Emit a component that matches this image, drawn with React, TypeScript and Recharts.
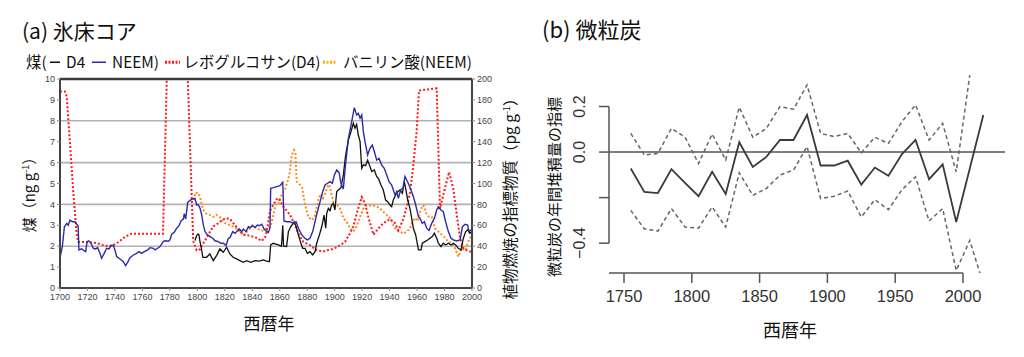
import React from 'react';
import { LineChart, Line, XAxis, YAxis, CartesianGrid, ReferenceLine } from 'recharts';

// ---------- (a) ice core data ----------
const NEEM_SOOT: [number, number][] = [
  [1700,1.45],[1701.7,1.98],[1703.2,2.93],[1704.9,3.09],[1706,3.0],[1707.3,3.25],[1709,3.17],[1710.9,3.17],[1712,3.06],[1713.2,2.98],
  [1713.8,1.82],[1715.8,1.87],[1717.7,1.77],[1718.7,1.74],[1719.7,2.22],[1721,2.26],[1722.6,2.14],[1724.3,1.9],[1726,1.87],[1727.4,1.93],
  [1729.1,1.66],[1730.3,1.42],[1732.2,1.66],[1734,1.9],[1735.7,1.87],[1737.1,2.03],[1738.8,2.03],[1740,1.82],[1741.3,1.5],[1743.7,1.39],
  [1746.1,1.26],[1747.8,1.07],[1749.2,1.23],[1751,1.45],[1753.4,1.58],[1755.8,1.66],[1757.5,1.74],[1759.4,1.66],[1761.4,1.74],[1763.8,1.82],
  [1765.5,1.93],[1768,1.9],[1769.2,1.82],[1771.1,1.9],[1772.8,1.98],[1775.2,2.22],[1776.5,2.26],[1779,2.24],[1780,2.3],[1781.3,2.57],
  [1783.2,2.67],[1785,2.86],[1786.7,2.98],[1788.1,3.21],[1789.8,3.3],[1790.5,3.56],[1791.5,3.3],[1793,4.1],[1794.7,4.19],[1796.6,4.26],
  [1798.3,4.29],[1799.5,3.97],[1800.5,4.0],[1802,3.81],[1803.2,3.49],[1804.4,3.01],[1805.6,2.7],[1807.3,2.54],[1809.3,2.46],[1811.2,2.38],
  [1812.9,2.26],[1815.3,2.22],[1817,2.14],[1819,2.14],[1820.9,2.03],[1822.6,2.38],[1823.8,2.41],[1825.8,2.7],[1827.5,2.62],[1828.7,2.7],
  [1830.6,2.82],[1832.3,2.7],[1833.5,2.82],[1835.4,2.7],[1837.2,2.93],[1838.4,2.89],[1840.3,2.98],[1842,2.89],[1843.7,3.01],[1845.2,2.98],
  [1846.9,3.05],[1848.6,2.82],[1850,2.73],[1851.7,2.66],[1852.9,2.86],[1853.4,4.77],[1855.4,4.8],[1857.8,4.85],[1860.2,4.9],[1862.2,5.06],
  [1863.1,3.21],[1865,3.17],[1867.5,3.17],[1869.9,3.09],[1871.9,3.17],[1873.6,2.86],[1876,2.54],[1878.4,2.38],[1880.1,2.3],[1882,2.38],
  [1884,2.7],[1885.7,3.17],[1887.4,3.65],[1889.4,4.13],[1891.3,4.61],[1893,4.93],[1894.9,5.01],[1896.6,5.09],[1898.3,5.01],[1899.8,5.41],
  [1901.5,5.65],[1903.2,5.53],[1904.6,5.01],[1906.3,4.74],[1908,5.96],[1910,7.16],[1912.4,7.96],[1914.3,8.63],[1916,8.28],[1917.2,8.36],
  [1918.5,8.12],[1919.7,8.28],[1920.9,7.48],[1922.1,7.0],[1924,6.36],[1925.7,6.68],[1927.4,6.84],[1928.9,6.52],[1930.6,6.12],[1932.3,6.2],
  [1934.2,5.89],[1936.1,5.73],[1937.9,5.41],[1939.6,5.09],[1941.5,4.93],[1942.7,4.69],[1944,4.45],[1945.2,4.61],[1946.4,4.29],[1948,4.69],
  [1949.7,4.77],[1951.2,5.33],[1952.4,5.17],[1953.6,5.01],[1955.6,4.69],[1957.3,4.37],[1959,3.97],[1961,3.41],[1962.2,3.33],[1963.8,3.09],
  [1965.3,3.17],[1967,2.86],[1968.7,2.75],[1970.6,3.09],[1972.6,3.33],[1974.3,3.73],[1975.5,3.89],[1977.4,3.73],[1979.1,3.65],[1980.8,3.17],
  [1982.8,2.7],[1984.7,2.38],[1986.4,2.3],[1988.8,2.25],[1991.3,2.3],[1993,2.93],[1994.9,3.05],[1996.8,3.01],[1997.8,2.7],[1999.3,2.78],
];

const D4_SOOT: [number, number][] = [
  [1798.3,2.27],[1799.5,2.51],[1800.6,2.59],[1801.2,2.55],[1801.8,2.27],[1803,1.87],[1804,1.47],[1806.7,1.47],[1809.1,1.63],[1811.6,1.31],
  [1814,1.55],[1816.4,1.87],[1818.9,1.71],[1821.3,1.95],[1823.7,1.63],[1826.1,1.47],[1828.6,1.39],[1831,1.31],[1833.4,1.23],[1835.9,1.31],
  [1838.9,1.23],[1842,1.31],[1845,1.29],[1848,1.34],[1850.5,1.29],[1852.5,1.26],[1853.4,2.06],[1855.4,2.14],[1857.2,2.1],[1859,2.06],
  [1861.3,2.0],[1862.2,3.0],[1862.8,2.0],[1865,1.98],[1866.3,2.7],[1868,2.93],[1870.5,3.17],[1872,2.93],[1873.6,2.54],[1875,2.22],
  [1876.7,1.9],[1878.4,1.9],[1880.1,1.66],[1882,1.74],[1884,1.58],[1885.7,1.74],[1886.9,2.14],[1888.9,2.54],[1890.6,2.93],[1892.3,3.49],
  [1893.5,2.86],[1894.2,3.57],[1895.4,3.81],[1896.6,3.7],[1897.8,3.97],[1899,4.05],[1900.2,3.73],[1901.5,4.61],[1902.7,4.69],[1904.6,4.8],
  [1906.3,5.41],[1908,6.36],[1910,7.08],[1911.9,7.48],[1913.6,7.88],[1914.8,7.65],[1916,7.83],[1917.2,7.32],[1918.5,7.0],[1919.7,5.73],
  [1920.9,5.89],[1922.6,5.85],[1924,6.12],[1925.7,5.81],[1927,5.57],[1928.9,5.65],[1930.6,5.33],[1931.8,5.25],[1933.7,4.93],[1935.4,4.69],
  [1937.1,4.21],[1938.6,4.13],[1940.3,3.97],[1941.5,3.89],[1942.7,4.21],[1944.4,4.45],[1945.9,4.61],[1947.6,4.69],[1949.3,4.53],[1950.7,5.09],
  [1951.9,4.69],[1953.2,4.21],[1954.8,3.81],[1956.1,3.33],[1957.3,2.86],[1959,2.54],[1961,1.82],[1962.9,1.82],[1963.8,2.14],[1965.8,2.22],
  [1967.7,2.3],[1969.4,2.38],[1971.1,2.46],[1972.6,2.62],[1974.3,2.38],[1975.5,2.14],[1977.4,1.98],[1979.1,2.14],[1980.8,2.06],[1982.8,2.14],
  [1984.7,2.06],[1986.4,2.14],[1988.1,2.06],[1990,1.9],[1992,1.82],[1993.7,2.38],[1995.4,2.7],[1996.8,2.78],[1998.5,2.62],[1999.8,2.7],
];

const LEVOGLUCOSAN_D4: [number, number][] = [
  [1700,188],[1703.6,188],[1704.9,183],[1707.3,138],[1709.7,91],[1712.1,52],[1713.3,44],[1719.4,44],[1726.7,43],[1731.6,41],
  [1735.2,40],[1738.8,41],[1742.5,44],[1747.3,49],[1752.2,52],[1760,52],[1768,52],[1775,52],[1778.5,240],[1792,240],
  [1797,45],[1799.5,36],[1802,37],[1804.4,43],[1806.8,48],[1809.3,54],[1811.7,59],[1815.3,62],[1818,65],[1820.9,67],
  [1823.8,66],[1827.5,60],[1831.1,54],[1834,51],[1838.4,50],[1843,48],[1847,45],[1850,50],[1853,74],[1855.4,80],
  [1858.3,86],[1860,84],[1862.5,78],[1867.5,70],[1871.2,60],[1873.6,52],[1877.2,44],[1882.1,41],[1887,36],[1891.6,35],
  [1894.2,36],[1898,37],[1901.5,39],[1907.5,44],[1911,52],[1913.6,59],[1916,71],[1919.7,87],[1922.1,81],[1924.5,68],
  [1928.2,51],[1931.8,57],[1935.5,62],[1940.3,66],[1944,62],[1946.4,55],[1950,66],[1952.5,78],[1954.9,91],[1957.3,118],
  [1959.7,150],[1961.4,189],[1974.3,191],[1976.7,76],[1979.1,89],[1983.3,111],[1986.4,95],[1988.9,70],[1991.3,48],[1993.7,38],
  [1996.2,36],[1998.6,35],[2000,33],
];

const VANILLIC_NEEM: [number, number][] = [
  [1797.8,84],[1798.3,91],[1800.6,91],[1802,87],[1803.2,80],[1804.3,75],[1806.7,71],[1809,70],[1811.6,68],[1814,70],
  [1816.4,68],[1818,65],[1820.2,62],[1823.8,60],[1827.4,58],[1830,55],[1832.2,53],[1834,50],[1836,54],[1838.4,57],
  [1840,60],[1843.3,57],[1846,55],[1848.2,55],[1851,58],[1853.3,59],[1855,68],[1857,80],[1859,80],[1861,88],
  [1862.2,91],[1864,95],[1867,108],[1868.7,127],[1870.4,132],[1871.5,128],[1872.3,102],[1874,100],[1876.3,96],[1878.4,80],
  [1880.8,68],[1883.3,65],[1885.5,68],[1887.2,79],[1888.4,86],[1890,90],[1891.5,86],[1893.3,91],[1895.4,99],[1896.6,97],
  [1897.8,89],[1899.8,79],[1901.5,80],[1903.9,76],[1906.3,67],[1908.8,63],[1911.2,57],[1913.6,54],[1916,59],[1918.5,68],
  [1920.9,76],[1923.3,79],[1927,79],[1930.6,78],[1933,76],[1935.5,73],[1937.9,70],[1940.3,67],[1942.8,60],[1945.2,55],
  [1947.6,54],[1950,52],[1952.5,54],[1954.9,57],[1956.6,63],[1958.5,67],[1960.5,64],[1962,72],[1963.9,79],[1965.3,78],
  [1967,70],[1968.8,68],[1970.7,68],[1973.1,57],[1975.5,54],[1978,51],[1980.4,48],[1982.8,44],[1985.2,43],[1987.7,38],
  [1990,30],[1992.5,38],[1994.9,36],[1996.9,43],[1998.6,48],[2000,52],
];

const ICE_X_TICKS = [1700,1720,1740,1760,1780,1800,1820,1840,1860,1880,1900,1920,1940,1960,1980,2000];
const SOOT_TICKS = [0,1,2,3,4,5,6,7,8,9,10];
const MARKER_TICKS = [0,20,40,60,80,100,120,140,160,180,200];

// ---------- (b) charcoal data ----------
const CHARCOAL_YEARS = [1755,1765,1775,1785,1795,1805,1815,1825,1835,1845,1855,1865,1875,1885,1895,1905,1915,1925,1935,1945,1955,1965,1975,1985,1995,2005,2015];
const CHARCOAL_MEAN = [-0.072,-0.175,-0.18,-0.075,-0.135,-0.194,-0.087,-0.184,0.043,-0.065,-0.021,0.053,0.053,0.163,-0.059,-0.059,-0.038,-0.143,-0.068,-0.104,-0.009,0.053,-0.119,-0.054,-0.307,null,0.163];
const CHARCOAL_UPPER = [0.082,-0.013,-0.006,0.104,0.065,-0.05,0.079,-0.035,0.197,0.065,0.104,0.2,0.188,0.295,0.082,0.068,0.082,-0.003,0.065,0.038,0.134,0.207,0.053,0.126,-0.087,0.338,null];
const CHARCOAL_LOWER = [-0.256,-0.337,-0.347,-0.248,-0.329,-0.334,-0.241,-0.329,-0.091,-0.19,-0.16,-0.101,-0.079,0.024,-0.204,-0.194,-0.171,-0.285,-0.209,-0.253,-0.165,-0.109,-0.303,-0.248,-0.52,-0.388,-0.58];
const CHARCOAL_X_TICKS = [1750,1800,1850,1900,1950,2000];
const CHARCOAL_Y_TICKS = [-0.4,-0.2,0,0.2];
const CHARCOAL_Y_LABELS: Record<string, string> = { '-0.4': '\u22120.4', '0': '0.0', '0.2': '0.2' };
const CHARCOAL_X_DOMAIN: [number, number] = [1738.94, 2030.97];
const CHARCOAL_Y_DOMAIN: [number, number] = [-0.531, 0.345];
const CHARCOAL_AXIS_X_END = 2000;

const toPts = (arr: [number, number][]) => arr.map(([year, v]) => ({ year, v }));
const charcoalData = CHARCOAL_YEARS.map((year, i) => ({
  year, mean: CHARCOAL_MEAN[i], upper: CHARCOAL_UPPER[i], lower: CHARCOAL_LOWER[i],
}));

const JP = '"Noto Sans CJK JP", "Noto Sans", sans-serif';
const SANS = '"Liberation Sans", Arial, "DejaVu Sans", sans-serif';

const Txt = ({ x, y, size, rotate = 0, children, family = JP, color = '#111' }: any) => (
  <div style={{
    position: 'absolute', left: x, top: y, transform: `translate(-50%,-50%) rotate(${rotate}deg)`,
    fontSize: size, whiteSpace: 'nowrap', lineHeight: 1, fontFamily: family, color,
  }}>{children}</div>
);

const Swatch = ({ color, dash, width = 12 }: any) => (
  <svg width={width} height={6} style={{ margin: '0 3px', verticalAlign: 'middle' }}>
    <line x1={0} y1={3} x2={width} y2={3} stroke={color} strokeWidth={dash ? 3 : 1.6} strokeDasharray={dash || undefined} />
  </svg>
);

const CharcoalYTick = ({ x, y, payload }: any) => {
  const label = CHARCOAL_Y_LABELS[String(payload.value)] ?? '';
  const cx = x - 17;
  return (
    <text x={cx} y={y} transform={`rotate(-90, ${cx}, ${y})`} textAnchor="middle" dominantBaseline="central"
      fontSize={16} fill="#333" fontFamily={SANS}>{label}</text>
  );
};

export default function App() {
  return (
    <div style={{ position: 'absolute', left: 0, top: 0, width: 1024, height: 357, background: '#fff', overflow: 'hidden' }}>
      {/* ---------- (a) ---------- */}
      <div style={{ position: 'absolute', left: 0, top: 0 }}>
        <LineChart width={520} height={357} margin={{ top: 79, right: 18, bottom: 49, left: 40 }}>
          <CartesianGrid yAxisId="left" vertical={false} stroke="#b2b2b2" strokeWidth={1.6} />
          <XAxis type="number" dataKey="year" domain={[1700, 2000]} ticks={ICE_X_TICKS} allowDataOverflow
            height={20} tickSize={3} tickMargin={3} axisLine={{ stroke: '#444', strokeWidth: 2 }}
            tickLine={{ stroke: '#888' }} tick={{ fontSize: 9, fill: '#444', fontFamily: SANS }} />
          <YAxis yAxisId="left" domain={[0, 10]} ticks={SOOT_TICKS} allowDataOverflow width={20} tickSize={3}
            axisLine={{ stroke: '#444', strokeWidth: 2 }} tickLine={{ stroke: '#888' }}
            tick={{ fontSize: 9, fill: '#444', fontFamily: SANS }} />
          <YAxis yAxisId="right" orientation="right" domain={[0, 200]} ticks={MARKER_TICKS} allowDataOverflow width={30}
            tickSize={3} axisLine={{ stroke: '#444', strokeWidth: 2 }} tickLine={{ stroke: '#888' }}
            tick={{ fontSize: 9, fill: '#444', fontFamily: SANS }} />
          <ReferenceLine yAxisId="left" y={10} stroke="#3a3a3a" strokeWidth={2.5} />
          <Line yAxisId="right" data={toPts(VANILLIC_NEEM)} dataKey="v" type="linear" dot={false} isAnimationActive={false}
            stroke="#ff8a1e" strokeWidth={2} strokeDasharray="2 2" />
          <Line yAxisId="right" data={toPts(LEVOGLUCOSAN_D4)} dataKey="v" type="linear" dot={false} isAnimationActive={false}
            stroke="#ff1a1a" strokeWidth={2} strokeDasharray="2 2" />
          <Line yAxisId="left" data={toPts(D4_SOOT)} dataKey="v" type="linear" dot={false} isAnimationActive={false}
            stroke="#111" strokeWidth={1.3} />
          <Line yAxisId="left" data={toPts(NEEM_SOOT)} dataKey="v" type="linear" dot={false} isAnimationActive={false}
            stroke="#2b2ba8" strokeWidth={1.4} />
        </LineChart>
      </div>

      <div style={{ position: 'absolute', left: 22, top: 30, transform: 'translateY(-50%)', fontSize: 21, fontFamily: JP, lineHeight: 1, whiteSpace: 'nowrap', color: '#111' }}>
        (a)&nbsp;氷床コア
      </div>
      <div style={{ position: 'absolute', left: 26, top: 62, transform: 'translateY(-50%)', fontSize: 15.4, fontFamily: JP, lineHeight: 1, whiteSpace: 'nowrap', color: '#111', display: 'flex', alignItems: 'center' }}>
        <span>煤(</span><Swatch color="#111" width={10} /><span>&nbsp;D4&nbsp;</span><Swatch color="#2b2ba8" width={14} />
        <span>&nbsp;NEEM)&nbsp;</span><Swatch color="#ff1a1a" dash="2 1.5" width={15} /><span>レボグルコサン(D4)</span>
        <Swatch color="#ffb000" dash="2 1.5" width={13} /><span>&nbsp;バニリン酸(NEEM)</span>
      </div>
      <Txt x={28} y={191} size={15} rotate={-90}>煤（ng g<sup style={{ fontSize: 9 }}>-1</sup>）</Txt>
      <Txt x={510} y={195} size={15.5} rotate={-90}>植物燃焼の指標物質（pg g<sup style={{ fontSize: 9 }}>-1</sup>）</Txt>
      <Txt x={269} y={322} size={17}>西暦年</Txt>

      {/* ---------- (b) ---------- */}
      <div style={{ position: 'absolute', left: 520, top: 0 }}>
        <LineChart width={504} height={357} data={charcoalData} margin={{ top: 73.5, right: 19, bottom: 54, left: 49 }}>
          <XAxis type="number" dataKey="year" domain={CHARCOAL_X_DOMAIN} ticks={CHARCOAL_X_TICKS} allowDataOverflow
            height={30} axisLine={false} tickSize={10} tickMargin={7} tickLine={{ stroke: '#555', strokeWidth: 1.5 }}
            tick={{ fontSize: 16.5, fill: '#333', fontFamily: SANS }} />
          <YAxis domain={CHARCOAL_Y_DOMAIN} ticks={CHARCOAL_Y_TICKS} allowDataOverflow width={40} axisLine={false}
            tickSize={10} tickLine={{ stroke: '#555', strokeWidth: 1.5 }} tick={<CharcoalYTick />} />
          <ReferenceLine y={0} stroke="#555" strokeWidth={1.5} />
          <ReferenceLine stroke="#555" strokeWidth={1.5}
            segment={[{ x: CHARCOAL_X_DOMAIN[0], y: CHARCOAL_Y_DOMAIN[0] }, { x: CHARCOAL_AXIS_X_END, y: CHARCOAL_Y_DOMAIN[0] }]} />
          <ReferenceLine stroke="#555" strokeWidth={1.5}
            segment={[{ x: CHARCOAL_X_DOMAIN[0], y: CHARCOAL_Y_TICKS[0] }, { x: CHARCOAL_X_DOMAIN[0], y: CHARCOAL_Y_TICKS[CHARCOAL_Y_TICKS.length - 1] }]} />
          <Line dataKey="upper" type="linear" dot={false} isAnimationActive={false} stroke="#666" strokeWidth={1.5} strokeDasharray="4 3" />
          <Line dataKey="lower" type="linear" dot={false} isAnimationActive={false} stroke="#666" strokeWidth={1.5} strokeDasharray="4 3" />
          <Line dataKey="mean" type="linear" dot={false} connectNulls isAnimationActive={false} stroke="#3a3a3a" strokeWidth={1.8} />
        </LineChart>
      </div>

      <div style={{ position: 'absolute', left: 542, top: 28, transform: 'translateY(-50%)', fontSize: 22, fontFamily: JP, lineHeight: 1, whiteSpace: 'nowrap', color: '#111' }}>
        (b)&nbsp;微粒炭
      </div>
      <Txt x={553} y={187} size={15} rotate={-90}>微粒炭の年間堆積量の指標</Txt>
      <Txt x={790} y={329} size={18}>西暦年</Txt>
    </div>
  );
}
